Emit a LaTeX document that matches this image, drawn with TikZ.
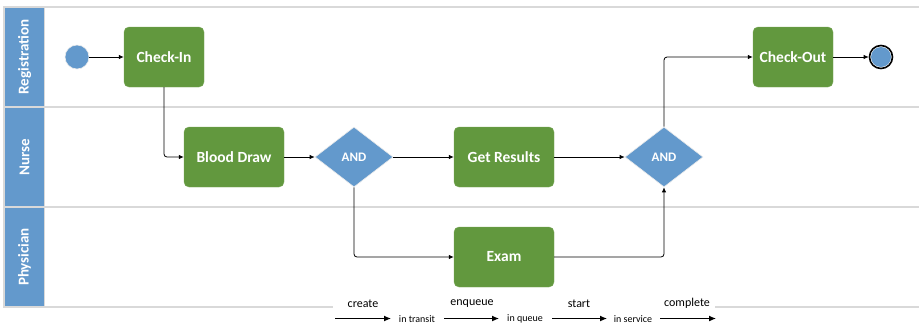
\documentclass[tikz,border=0pt]{standalone}
\usepackage{fontspec}
\setmainfont{Carlito}
\usetikzlibrary{shapes.geometric,arrows.meta}
\definecolor{taskgreen}{RGB}{98,152,62}
\definecolor{laneblue}{RGB}{99,153,204}
\definecolor{lanegrey}{RGB}{217,217,217}
\tikzset{
  task/.style={rectangle, rounded corners=5pt, fill=taskgreen, draw=taskgreen!85!white, line width=0.4pt,
    minimum width=80pt, minimum height=60pt, inner sep=0pt, text=white, font=\fontsize{15.5}{17}\selectfont\bfseries},
  gate/.style={diamond, fill=laneblue, draw=white!85!gray, line width=0.6pt, aspect=1.3,
    minimum width=78pt, minimum height=60pt, inner sep=0pt, text=white, font=\fontsize{13}{15}\selectfont\bfseries},
  evstart/.style={circle, fill=laneblue, draw=white!85!gray, line width=0.6pt, minimum size=24pt, inner sep=0pt},
  evend/.style={circle, fill=white, draw=black, line width=1.6pt, minimum size=23pt, inner sep=0pt,
    path picture={\fill[laneblue] (path picture bounding box.center) circle (10pt);}},
  conn/.style={draw=black, line width=0.8pt, rounded corners=3pt, -{Latex[length=5pt,width=4.5pt]}},
  lanelabel/.style={rotate=90, text=white, font=\fontsize{15}{17}\selectfont\bfseries},
  laneline/.style={draw=lanegrey, line width=1.6pt},
  legarrow/.style={draw=black, line width=1.1pt, -{Latex[length=7pt,width=6pt]}},
  legtop/.style={font=\fontsize{12}{14}\selectfont, inner sep=1pt},
  legstate/.style={font=\fontsize{10}{12}\selectfont, inner sep=1pt},
}
\begin{document}
\begin{tikzpicture}[x=1pt,y=-1pt]
\useasboundingbox (0,0) rectangle (919,325);
% lane label bands
\fill[laneblue] (5,8) rectangle (44,106);
\fill[laneblue] (5,108) rectangle (44,206);
\fill[laneblue] (5,208) rectangle (44,306);
\node[lanelabel] (lreg) at (24.5,57) {Registration};
\node[lanelabel] (lnur) at (24.5,157) {Nurse};
\node[lanelabel] (lphy) at (24.5,257) {Physician};
% lane lines
\draw[laneline] (919,7) -- (4,7) -- (4,307) -- (333,307);
\draw[laneline] (715,307) -- (919,307);
\draw[laneline] (4,107) -- (919,107);
\draw[laneline] (4,207) -- (919,207);
\draw[draw=lanegrey, line width=1pt] (44,7) -- (44,307);
% nodes
\node[evstart] (start) at (77,57) {};
\node[task] (checkin) at (164,57) {Check-In};
\node[task, minimum width=100pt] (blood) at (234,157) {Blood Draw};
\node[gate] (and1) at (354,157) {AND};
\node[task, minimum width=100pt] (results) at (504,157) {Get Results};
\node[task, minimum width=100pt] (exam) at (504,257) {Exam};
\node[gate] (and2) at (664,157) {AND};
\node[task] (checkout) at (793,57) {Check-Out};
\node[evend] (end) at (881,57) {};
% connectors
\draw[conn] (start) -- (checkin);
\draw[conn] (checkin.south) |- (blood.west);
\draw[conn] (blood) -- (and1);
\draw[conn] (and1) -- (results);
\draw[conn] (and1.south) |- (exam.west);
\draw[conn] (results) -- (and2);
\draw[conn] (exam.east) -| (and2.south);
\draw[conn] (and2.north) |- (checkout.west);
\draw[conn] (checkout) -- (end);
% legend
\coordinate (a1s) at (335,318.5); \coordinate (a1e) at (391,318.5);
\coordinate (a2s) at (444,318.5); \coordinate (a2e) at (499,318.5);
\coordinate (a3s) at (552,318.5); \coordinate (a3e) at (607,318.5);
\coordinate (a4s) at (660,318.5); \coordinate (a4e) at (716,318.5);
\draw[legarrow] (a1s) -- (a1e);
\draw[legarrow] (a2s) -- (a2e);
\draw[legarrow] (a3s) -- (a3e);
\draw[legarrow] (a4s) -- (a4e);
\node[legtop] (tcreate) at (363,303.5) {create};
\node[legtop] (tenq) at (472,303.5) {enqueue};
\node[legtop] (tstart) at (579,303.5) {start};
\node[legtop] (tcomp) at (687,303.5) {complete};
\node[legstate] (stransit) at (417,319) {in transit};
\node[legstate] (squeue) at (525,319) {in queue};
\node[legstate] (sservice) at (633,319) {in service};
\end{tikzpicture}
\end{document}
